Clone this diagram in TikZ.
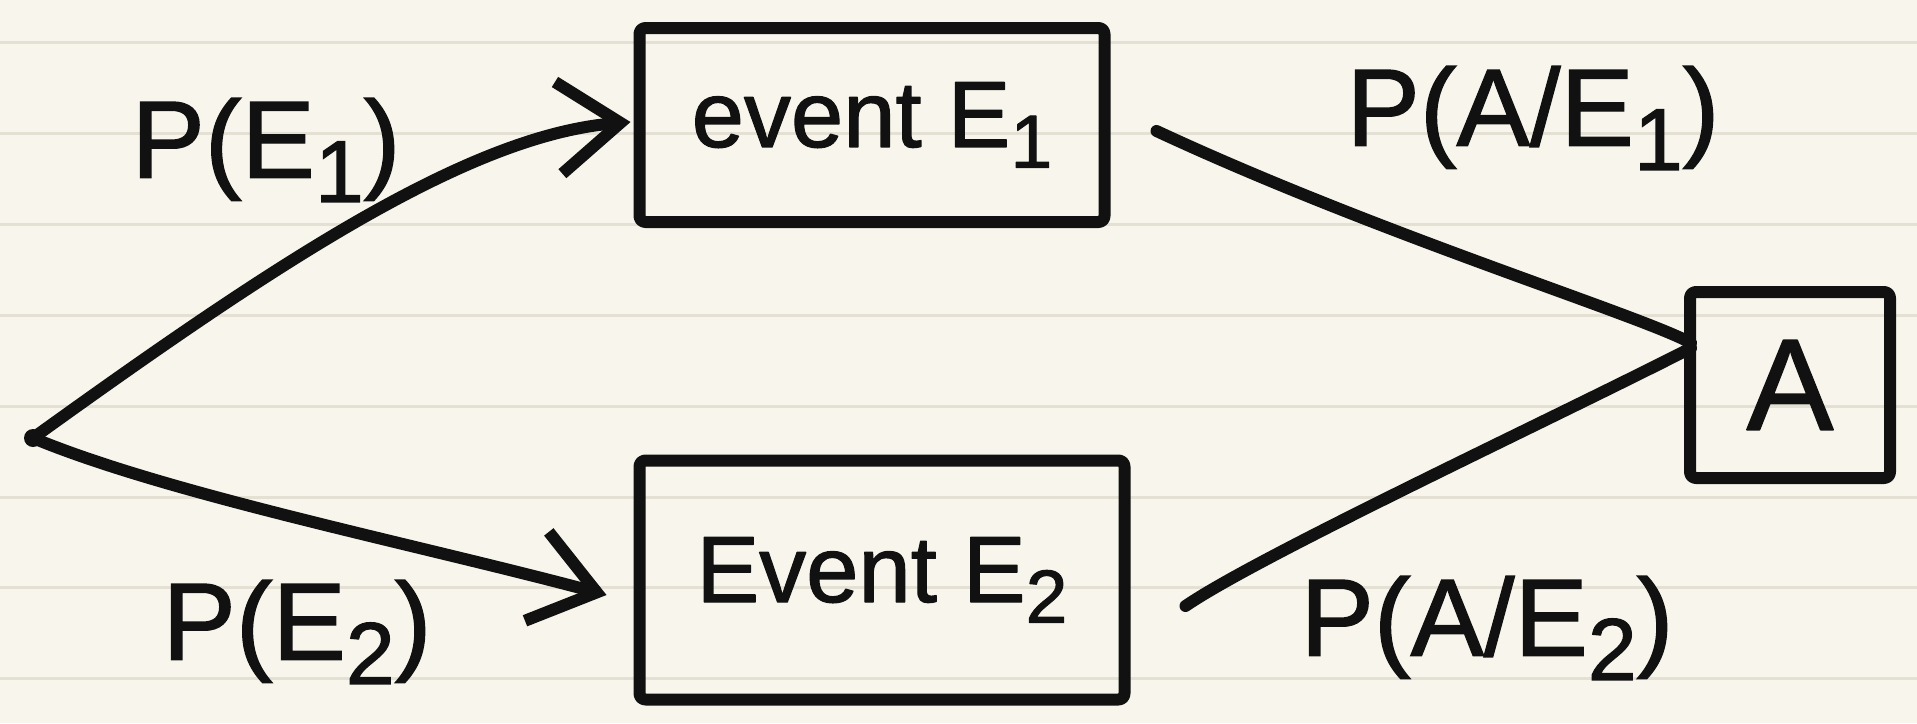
\documentclass[tikz,border=0pt]{standalone}
\usepackage{fontspec}
\setmainfont{Liberation Sans}
\newfontfamily\hand{Liberation Sans}[FakeBold=1.3]
\usepackage{graphicx}
\usetikzlibrary{arrows.meta,calc}
\newcommand\sbs[1]{\raisebox{-0.22em}{\scalebox{0.8}{#1}}}
\definecolor{paper}{HTML}{F8F6EC}
\definecolor{rulecol}{HTML}{E4E0D4}
\definecolor{ink}{HTML}{111111}
\begin{document}
\begin{tikzpicture}[x=0.5pt,y=-0.5pt,
  inkline/.style={draw=ink,line width=6pt,line cap=round,line join=round},
  box/.style={inkline,rectangle,rounded corners=3pt,inner sep=0pt,font=\hand\fontsize{47}{56}\selectfont,text=ink},
  lbl/.style={font=\hand\fontsize{55}{66}\selectfont,text=ink,inner sep=0pt},
  conn/.style={inkline},
  arr/.style={inkline,-{Straight Barb[length=31pt,width=46pt]}}
]
\fill[paper] (0,0) rectangle (1917,723);
\useasboundingbox (0,0) rectangle (1917,723);
\foreach \y in {42,133,224,315,406,497,587,678} \draw[rulecol,line width=1.5pt] (0,\y) -- (1917,\y);

\node[box,minimum width=232.5pt,minimum height=97pt] (E1) at (872,125) {event E\sbs{1}};
\node[box,minimum width=242.5pt,minimum height=119.5pt] (E2) at (882,580) {Event E\sbs{2}};
\node[box,minimum width=100pt,minimum height=93pt,font=\hand\fontsize{65}{78}\selectfont] (A) at (1790,385) {A};
\coordinate (S) at (33,438);
\fill[ink] (S) circle (9);

\node[lbl] (l1) at (266,150) {P(E\sbs{1})};
\node[lbl] (l2) at (297,632) {P(E\sbs{2})};
\node[lbl] (l3) at (1533,118) {P(A/E\sbs{1})};
\node[lbl] (l4) at (1487,628) {P(A/E\sbs{2})};

\draw[arr] (S) .. controls (280,260) and (470,135) .. ($(E1.west)+(-3,-3)$);
\draw[arr] (S) .. controls (170,495) and (420,545) .. ($(E2.west)+(-27,15)$);
\draw[conn] ($(E1.east)+(46,6)$) .. controls (1380,235) and (1640,315) .. ($(A.west)+(7,-42)$);
\draw[conn] ($(E2.east)+(55,26)$) .. controls (1260,555) and (1550,420) .. ($(A.west)+(7,-37)$);
\end{tikzpicture}
\end{document}
